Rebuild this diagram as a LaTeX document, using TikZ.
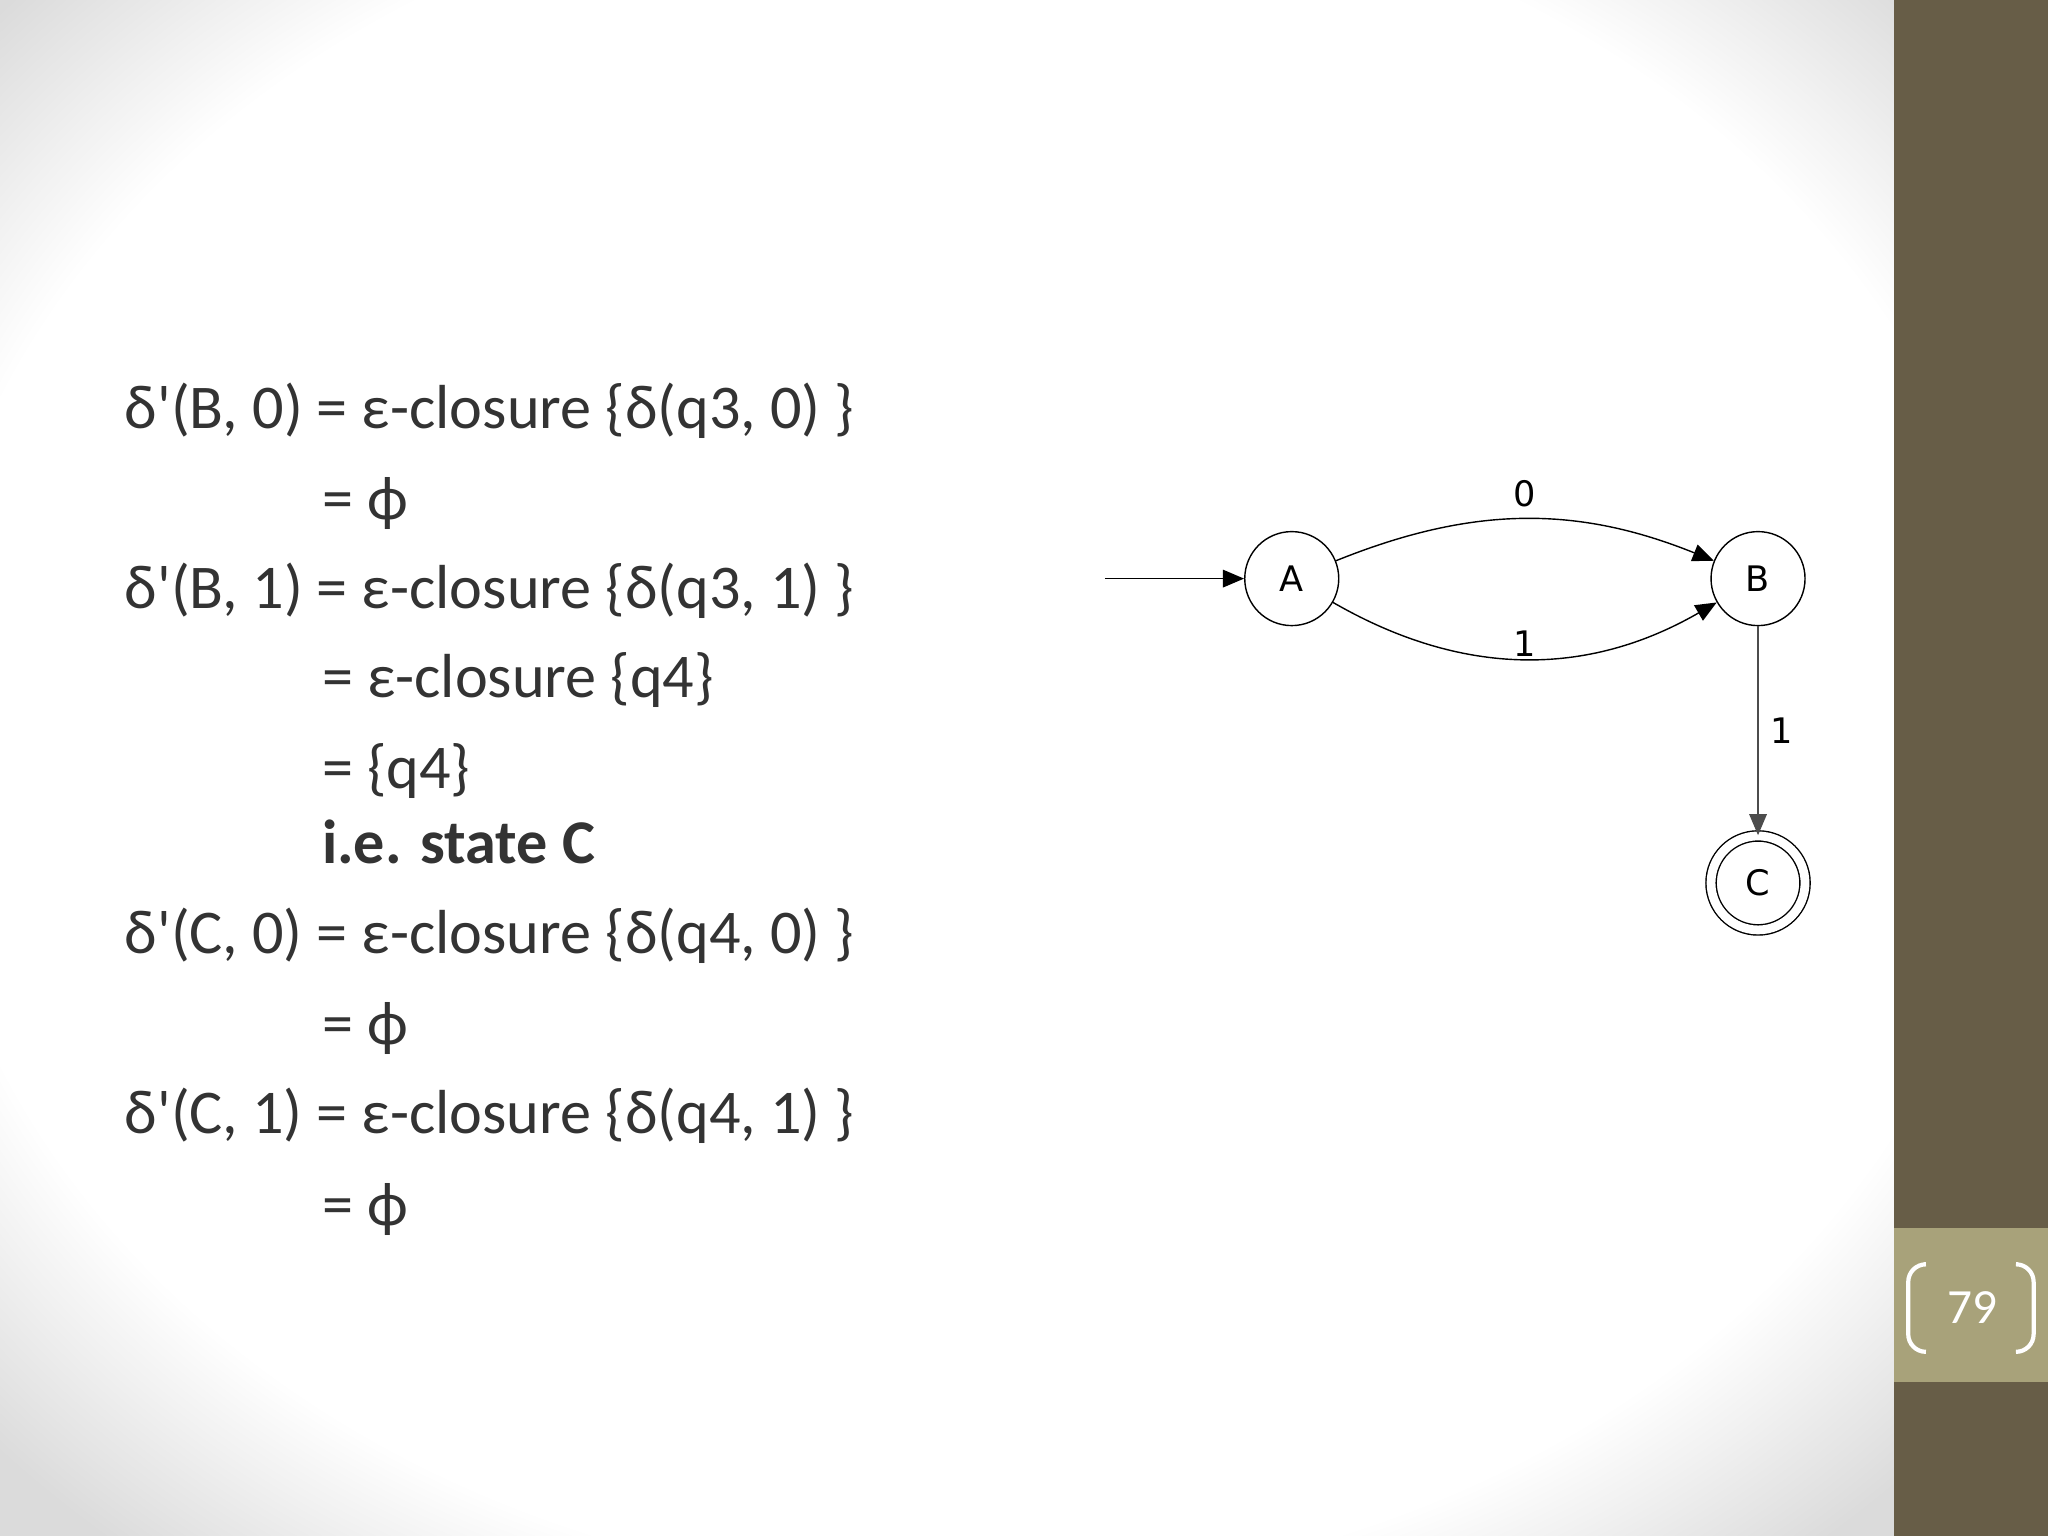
\documentclass[tikz,border=0pt]{standalone}
\usepackage{fontspec}
\setmainfont{Carlito}
\newfontfamily\lab{DejaVu Sans}
\usetikzlibrary{arrows.meta,fadings}
\definecolor{bar}{HTML}{675D47}
\definecolor{pg}{HTML}{A8A27A}
\definecolor{txt}{HTML}{333333}
\begin{document}
\begin{tikzpicture}[x={0.01306cm},y={-0.01306cm},
  ln/.style={anchor=base west,text=txt,font=\fontsize{17.7}{22}\selectfont,inner sep=0},
  st/.style={circle,draw,minimum size=0.94cm,inner sep=0,font=\lab\fontsize{10}{12}\selectfont},
  el/.style={font=\lab\fontsize{10}{12}\selectfont},
  ar/.style={-{Triangle[length=6pt,width=5pt]},thin}]
\useasboundingbox (0,0) rectangle (1568,1176);
\fill[white!86!black] (0,0) rectangle (1450,1176);
\fill[white,path fading=circle with fuzzy edge 20 percent] (740,560) ellipse (1000 and 820);
\fill[bar] (1450,0) rectangle (1568,1176);
\fill[pg] (1450,940) rectangle (1568,1058);
\draw[white,line width=1.2pt,rounded corners=5pt] (1473,968) -- (1461,968) -- (1461,1035) -- (1473,1035);
\draw[white,line width=1.2pt,rounded corners=5pt] (1545,968) -- (1557,968) -- (1557,1035) -- (1545,1035);
\node[text=white,font=\fontsize{14}{16}\selectfont] (pn) at (1510,1001) {79};
\node[ln] (l1) at (95,328) {δ\textquotesingle(B, 0) = ε-closure \{δ(q3, 0) \}};
\node[ln] (l2) at (246,398) {= ϕ};
\node[ln] (l3) at (95,466) {δ\textquotesingle(B, 1) = ε-closure \{δ(q3, 1) \}};
\node[ln] (l4) at (246,534) {= ε-closure \{q4\}};
\node[ln] (l5) at (246,604) {= \{q4\}};
\node[ln,font=\bfseries\fontsize{17.7}{22}\selectfont] (l6) at (246,661) {i.e. state C};
\node[ln] (l7) at (95,730) {δ\textquotesingle(C, 0) = ε-closure \{δ(q4, 0) \}};
\node[ln] (l8) at (246,800) {= ϕ};
\node[ln] (l9) at (95,868) {δ\textquotesingle(C, 1) = ε-closure \{δ(q4, 1) \}};
\node[ln] (l10) at (246,938) {= ϕ};
\node[st] (A) at (989,443) {A};
\node[st] (B) at (1346,443) {B};
\node[st,double,double distance=2.5pt] (C) at (1346,676) {C};
\coordinate (s) at (846,443);
\draw[ar] (s) -- (A);
\draw[ar] (A) to[bend left=22] node[el,above]{0} (B);
\draw[ar] (A) to[bend right=30] node[el,above,yshift=-3pt]{1} (B);
\draw[ar,gray!60!black] (B) -- node[el,right,text=black]{1} (C);
\end{tikzpicture}
\end{document}
